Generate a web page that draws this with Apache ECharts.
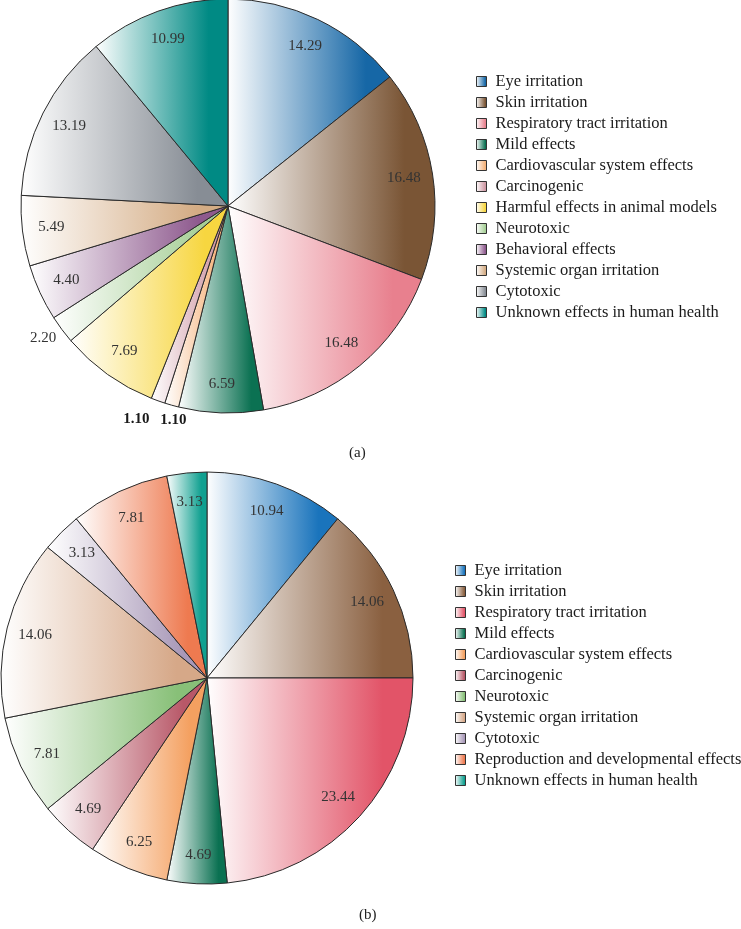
<!DOCTYPE html>
<html>
<head>
<meta charset="utf-8">
<script src="https://cdn.jsdelivr.net/npm/echarts@6/dist/echarts.min.js"></script>
<style>
html,body{margin:0;padding:0;background:#fff;}
#a{position:absolute;left:0;top:0;width:741px;height:460px;}
#b{position:absolute;left:0;top:460px;width:741px;height:469px;}
</style>
</head>
<body>
<div id="a"></div>
<div id="b"></div>
<script>
// ---- Data (a) ----
const namesA = ['Eye irritation','Skin irritation','Respiratory tract irritation','Mild effects','Cardiovascular system effects','Carcinogenic','Harmful effects in animal models','Neurotoxic','Behavioral effects','Systemic organ irritation','Cytotoxic','Unknown effects in human health'];
const valuesA = [14.29,16.48,16.48,6.59,1.10,1.10,7.69,2.20,4.40,5.49,13.19,10.99];
const colorsA = ['#1667a6','#7a5535','#e8808e','#0b7152','#f5b27a','#cf98a4','#f7d640','#a6cf96','#8e5a8e','#d4ac84','#878d95','#008a84'];
// ---- Data (b) ----
const namesB = ['Eye irritation','Skin irritation','Respiratory tract irritation','Mild effects','Cardiovascular system effects','Carcinogenic','Neurotoxic','Systemic organ irritation','Cytotoxic','Reproduction and developmental effects','Unknown effects in human health'];
const valuesB = [10.94,14.06,23.44,4.69,6.25,4.69,7.81,14.06,3.13,7.81,3.13];
const colorsB = ['#1a74bc','#8a6040','#e25468','#0b7152','#f4a060','#b85868','#88c078','#d6a888','#a898b8','#ee7a50','#10a090'];
// small slices whose labels sit outside the pie (a)
const outsideA = [4,5,7];
const boldA = [4,5];

const FONT = 'Liberation Serif';

function grad(c){
  return {type:'linear',x:0,y:0,x2:1,y2:0,colorStops:[{offset:0,color:'#ffffff'},{offset:0.85,color:c},{offset:1,color:c}]};
}

function build(names, values, colors, center, radius, outside, bold, caption, capPos, legendPos){
  const main = names.map((n,i)=>({name:n, value:values[i], itemStyle:{color:grad(colors[i])}}));
  const lab = names.map((n,i)=>({name:n, value:values[i], label:{show: outside.indexOf(i) < 0}}));
  const outLab = names.map((n,i)=>({name:n, value:values[i], label:{show: outside.indexOf(i) >= 0, fontWeight: bold.indexOf(i)>=0 ? 'bold':'normal', color: bold.indexOf(i)>=0 ? '#1a1a1a':'#333'}}));
  const labelBase = {position:'inside', formatter:(p)=>p.value.toFixed(2), fontFamily:FONT, fontSize:15, color:'#333'};
  const overlay = (r0, r1, data, extra) => Object.assign({
    type:'pie', center:center, radius:[r0,r1], startAngle:90, clockwise:true,
    data:data, silent:true, emphasis:{disabled:true}, legendHoverLink:false,
    itemStyle:{color:'rgba(0,0,0,0)', borderWidth:0},
    label:labelBase, labelLine:{show:false}
  }, extra||{});
  const series = [
    {
      type:'pie', center:center, radius:[0,radius], startAngle:90, clockwise:true,
      data:main, label:{show:false}, labelLine:{show:false},
      itemStyle:{borderColor:'#2a2a2a', borderWidth:1},
      emphasis:{disabled:true}, silent:true
    },
    overlay(radius*0.69, radius, lab)
  ];
  if (outside.length) {
    series.push(overlay(radius, radius*1.16, outLab, {
      labelLayout: function(p){
        // nudge the two adjacent tiny labels apart
        if (p.dataIndex === 5) return {dx:-15, dy:0};
        if (p.dataIndex === 4) return {dx:7, dy:-4};
        if (p.dataIndex === 7) return {dx:-3, dy:-3};
        return {};
      }
    }));
  }
  return {
    animation:false,
    title:{text:caption, left:capPos[0], top:capPos[1], textStyle:{fontFamily:FONT, fontSize:15, fontWeight:'normal', color:'#222'}},
    legend:{
      orient:'vertical', left:legendPos[0], top:legendPos[1],
      data:names, icon:'rect', itemWidth:10, itemHeight:10, itemGap:4,
      itemStyle:{borderColor:'#333', borderWidth:1},
      textStyle:{fontFamily:FONT, fontSize:16.5, color:'#1a1a1a', padding:[0,0,0,4]},
      selectedMode:false
    },
    series:series
  };
}

const ca = echarts.init(document.getElementById('a'));
ca.setOption(build(namesA, valuesA, colorsA, [228,206], 207, outsideA, boldA, '(a)', [344,441], [471,68]));
const cb = echarts.init(document.getElementById('b'));
cb.setOption(build(namesB, valuesB, colorsB, [207,218], 206, [], [], '(b)', [354,443], [450,97]));
</script>
</body>
</html>
